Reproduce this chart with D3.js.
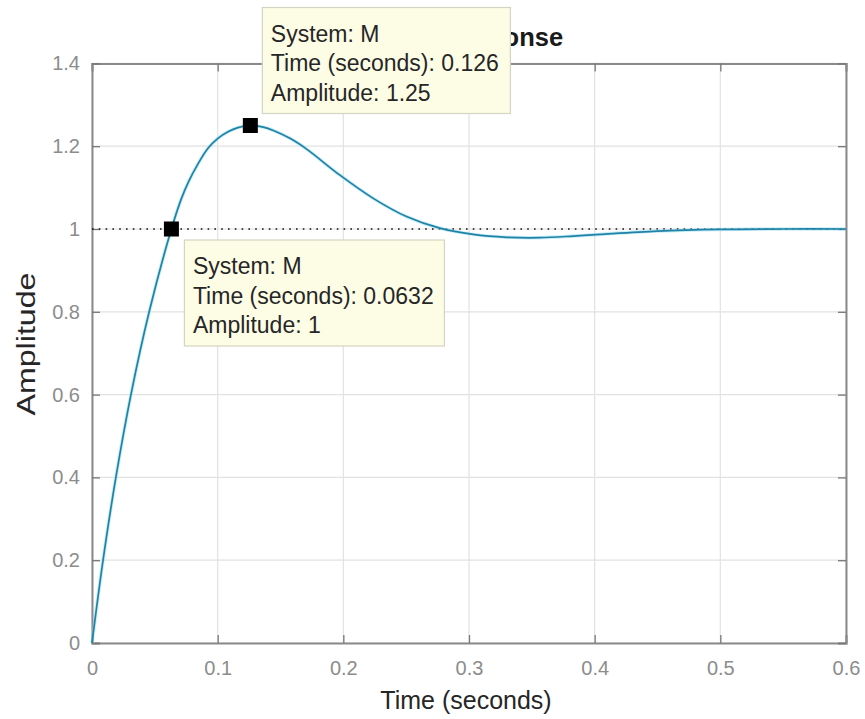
<!DOCTYPE html>
<html>
<head>
<meta charset="utf-8">
<script src="https://cdn.jsdelivr.net/npm/d3@7"></script>
<style>
  html, body { margin: 0; padding: 0; background: #fff; }
  svg { display: block; font-family: "Liberation Sans", Arial, Helvetica, sans-serif; }
</style>
</head>
<body>
<div id="chart"></div>
<script>
// step response
const timeValues = [0, 0.0088, 0.019, 0.031, 0.0455, 0.0632, 0.0712, 0.0768, 0.0839, 0.0923, 0.1002, 0.1082, 0.1161, 0.126,
    0.1363, 0.1443, 0.1575, 0.1708, 0.1973, 0.2238, 0.2503, 0.2768, 0.3033, 0.330, 0.3564, 0.383, 0.404, 0.45, 0.5, 0.55, 0.6];
const amplitudeValues = [0, 0.2, 0.4, 0.6, 0.8, 1.0, 1.074, 1.114, 1.155, 1.195, 1.219, 1.235, 1.245, 1.25,
    1.246, 1.238, 1.219, 1.193, 1.130, 1.074, 1.030, 1.002, 0.987, 0.980, 0.979, 0.983, 0.987, 0.995, 0.999, 1.0, 1.0];

const xTicks = [0, 0.1, 0.2, 0.3, 0.4, 0.5, 0.6];
const yTicks = [0, 0.2, 0.4, 0.6, 0.8, 1, 1.2, 1.4];
const finalValue = 1;

// data tips
const tipSystems = ["M", "M"];
const tipTimes = [0.0632, 0.126];
const tipAmplitudes = [1, 1.25];
const tipTimeLabels = ["0.0632", "0.126"];
const tipAmpLabels = ["1", "1.25"];

function createChart() {
    const width = 865;
    const height = 719;
    const plot = { left: 92, right: 846, top: 63.4, bottom: 643 };

    const svg = d3.select("#chart")
        .append("svg")
        .attr("width", width)
        .attr("height", height);

    const x = d3.scaleLinear().domain([0, 0.6]).range([plot.left, plot.right]);
    const y = d3.scaleLinear().domain([0, 1.4]).range([plot.bottom, plot.top]);

    // grid
    svg.append("g")
        .selectAll("line.vgrid")
        .data(xTicks)
        .enter()
        .append("line")
        .attr("x1", d => x(d)).attr("x2", d => x(d))
        .attr("y1", plot.top).attr("y2", plot.bottom)
        .attr("stroke", "#e2e2e2")
        .attr("stroke-width", 1.2);

    svg.append("g")
        .selectAll("line.hgrid")
        .data(yTicks)
        .enter()
        .append("line")
        .attr("x1", plot.left).attr("x2", plot.right)
        .attr("y1", d => y(d)).attr("y2", d => y(d))
        .attr("stroke", "#e2e2e2")
        .attr("stroke-width", 1.2);

    // axes, ticks pointing inwards on all four sides
    const tickColor = "#8a8a8a";
    const bottomAxis = svg.append("g")
        .attr("transform", `translate(0,${plot.bottom})`)
        .call(d3.axisBottom(x).tickValues(xTicks).tickSize(-8).tickPadding(18).tickFormat(d3.format("~g")));
    const topAxis = svg.append("g")
        .attr("transform", `translate(0,${plot.top})`)
        .call(d3.axisTop(x).tickValues(xTicks).tickSize(-8).tickFormat(""));
    const leftAxis = svg.append("g")
        .attr("transform", `translate(${plot.left},0)`)
        .call(d3.axisLeft(y).tickValues(yTicks).tickSize(-8).tickPadding(12).tickFormat(d3.format("~g")));
    const rightAxis = svg.append("g")
        .attr("transform", `translate(${plot.right},0)`)
        .call(d3.axisRight(y).tickValues(yTicks).tickSize(-8).tickFormat(""));

    [bottomAxis, topAxis, leftAxis, rightAxis].forEach(a => {
        a.select(".domain").attr("stroke", tickColor).attr("stroke-width", 2);
        a.selectAll(".tick line").attr("stroke", "#777").attr("stroke-width", 1.3);
        a.selectAll(".tick text")
            .attr("fill", "#8c8c8c")
            .style("font-size", "20px")
            .style("font-family", "'Liberation Sans', Arial, sans-serif");
    });
    bottomAxis.selectAll(".tick text").attr("dy", "0.71em");

    // final value line
    svg.append("line")
        .attr("x1", x(0)).attr("x2", x(0.6))
        .attr("y1", y(finalValue)).attr("y2", y(finalValue))
        .attr("stroke", "#111")
        .attr("stroke-width", 1.6)
        .attr("stroke-dasharray", "1.6,5.2");

    // response curve
    const data = timeValues.map((t, i) => ({ t: t, a: amplitudeValues[i] }));
    const line = d3.line()
        .x(d => x(d.t))
        .y(d => y(d.a))
        .curve(d3.curveCatmullRom.alpha(0.5));

    svg.append("path")
        .datum(data)
        .attr("fill", "none")
        .attr("stroke", "#8fdcef")
        .attr("stroke-width", 3.5)
        .attr("opacity", 0.5)
        .attr("d", line);
    svg.append("path")
        .datum(data)
        .attr("fill", "none")
        .attr("stroke", "#1f82a6")
        .attr("stroke-width", 1.7)
        .attr("d", line);

    // title (partly hidden behind the data tip)
    svg.append("text")
        .attr("x", (plot.left + plot.right) / 2 + 2)
        .attr("y", 46)
        .attr("text-anchor", "middle")
        .attr("fill", "#1a1a1a")
        .style("font-size", "25.5px")
        .style("font-weight", "bold")
        .text("Step Response");

    // axis labels
    svg.append("text")
        .attr("x", 466)
        .attr("y", 709)
        .attr("text-anchor", "middle")
        .attr("fill", "#262626")
        .style("font-size", "25px")
        .text("Time (seconds)");

    svg.append("text")
        .attr("transform", "translate(35,344) rotate(-90)")
        .attr("text-anchor", "middle")
        .attr("fill", "#262626")
        .style("font-size", "25px")
        .attr("textLength", 143)
        .attr("lengthAdjust", "spacingAndGlyphs")
        .text("Amplitude");

    // data tips
    const tipOffsets = [{ dx: 13, dy: 11 }, { dx: 12, dy: -118 }];
    const tipW = [260, 248];
    const tipH = 106;

    tipTimes.forEach((t, i) => {
        const px = x(t);
        const py = y(tipAmplitudes[i]);
        const bx = px + tipOffsets[i].dx;
        const by = py + tipOffsets[i].dy;

        const g = svg.append("g").attr("transform", `translate(${bx},${by})`);
        g.append("rect")
            .attr("width", tipW[i])
            .attr("height", tipH)
            .attr("fill", "#fdfde6")
            .attr("stroke", "#d4d4c4")
            .attr("stroke-width", 1.2);

        const lines = [
            "System: " + tipSystems[i],
            "Time (seconds): " + tipTimeLabels[i],
            "Amplitude: " + tipAmpLabels[i]
        ];
        g.selectAll("text")
            .data(lines)
            .enter()
            .append("text")
            .attr("x", 8.5)
            .attr("y", (d, j) => 34 + j * 29.5)
            .attr("fill", "#262626")
            .style("font-size", "23px")
            .text(d => d);
    });

    // data tip markers
    svg.append("g")
        .selectAll("rect.marker")
        .data(tipTimes)
        .enter()
        .append("rect")
        .attr("x", d => x(d) - 7.5)
        .attr("y", (d, i) => y(tipAmplitudes[i]) - 7.5)
        .attr("width", 15)
        .attr("height", 15)
        .attr("fill", "#000");
}

document.addEventListener('DOMContentLoaded', createChart);
</script>
</body>
</html>
